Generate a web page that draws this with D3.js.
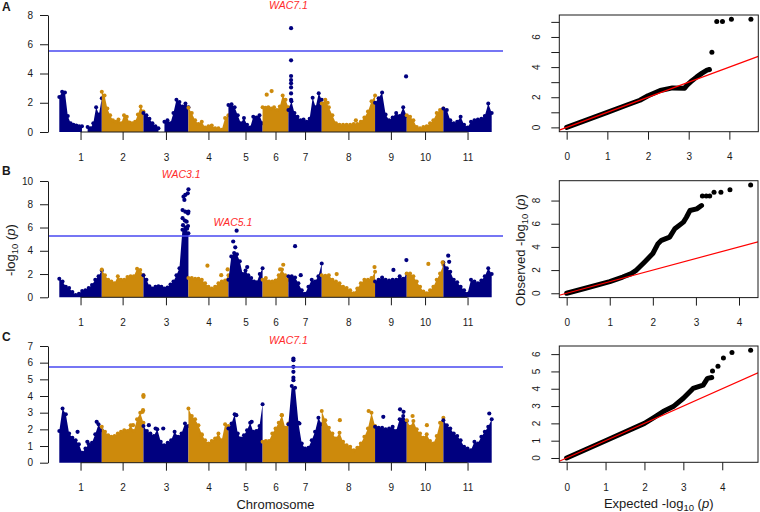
<!DOCTYPE html>
<html>
<head>
<meta charset="utf-8">
<script src="https://cdn.jsdelivr.net/npm/d3@7"></script>
<style>
  body { margin: 0; background: #fff; }
  text { font-family: "Liberation Sans", Arial, sans-serif; }
</style>
</head>
<body>
<svg id="fig" width="760" height="512"></svg>
<script>
// ---- data ----
var chromosomes = ["1", "2", "3", "4", "5", "6", "7", "8", "9", "10", "11"];
var chrLength = [51, 50, 54, 48, 41, 31, 40, 64, 38, 44, 58];   // Mb (approx.)

// upper envelope of -log10(p), sampled evenly along each chromosome (null = no SNPs)
var envA = [
  [2.4, 2.75, 2.7, 1.1, 0.6, 0.5, 0.45, 0.4, 0.4, null, 0.35, 0.25, 0.6, 1.7, 1.2, 2.3],
  [2.75, 2.5, 1.6, 1.15, 0.8, 0.7, 0.85, 0.6, 1.15, 1.05, 0.65, 0.6, 0.7, 1.2, 1.75, 1.4],
  [1.3, 1.15, 0.9, 0.6, 0.4, 0.25, null, 0.7, 0.8, 0.6, 1.3, 2.2, 2.05, 1.75, 1.95, 1.7],
  [1.65, 1.3, 0.8, 0.55, 0.7, 0.3, 0.4, 0.45, 0.25, 0.25, 0.15, 0.95, 1.15],
  [1.85, 1.9, 1.7, 1.15, 0.6, 0.95, 0.5, 0.3, 1.05, 1.0, 1.15, 0.6],
  [1.7, 1.65, 1.7, 1.6, 1.7, 1.5, 1.75, 2.5, 2.2, 1.7],
  [1.5, 2.1, 1.3, 1.05, 0.8, 0.85, 0.7, 0.9, 2.35, 1.7, 2.65, 2.2],
  [1.95, 2.2, 1.7, 1.15, 0.6, 0.5, 0.5, 0.5, 0.5, 0.55, 0.55, 0.7, 1.0, 1.4, 2.1, 2.5],
  [2.0, 2.3, 2.7, 1.2, 0.8, 1.0, 1.3, 1.1, 1.7, 1.1],
  [1.15, 1.05, 0.8, 0.35, 0.25, 0.35, 0.4, 0.6, 0.8, 1.3, 1.5, 1.6],
  [1.6, 1.5, 0.8, 0.6, 0.7, 1.05, 0.5, 0.3, 0.7, 0.8, 0.85, 0.9, 1.1, 1.95, 1.3]
];
var envB = [
  [1.6, 1.35, 0.9, 0.8, 0.45, 0.2, 0.3, 0.55, 0.6, 0.8, 1.05, 1.5, 1.8, 2.3],
  [2.4, 1.9, 1.5, 1.35, 1.2, 1.8, 1.5, 1.5, 1.75, 1.8, 1.8, 2.45, 2.35, 1.9],
  [1.9, 1.5, 0.95, 0.75, 0.9, 0.95, 0.9, 0.75, 0.85, 1.1, 1.35, 1.9, 2.5, 5.8, 6.0, 5.5],
  [1.65, 1.65, 1.6, 1.6, 1.5, 1.2, 0.9, 0.75, 0.9, 1.2, 1.35, 1.45, 1.9],
  [1.5, 3.5, 3.8, 3.7, 3.1, 2.0, 2.3, 1.9, 1.65, 1.35, 1.3, 2.0, 2.5],
  [1.5, 1.65, 1.35, 1.35, 1.45, 1.9, 2.4, 1.9, 1.5],
  [1.8, 1.8, 1.7, 1.2, 0.6, 0.3, 0.9, 1.5, 1.35, 1.8, 2.9],
  [1.9, 1.85, 1.9, 1.5, 1.35, 1.2, 0.9, 0.8, 0.6, 0.35, 0.75, 1.2, 1.5, 1.5, 1.65, 2.2],
  [1.35, 1.5, 1.7, 1.5, 1.45, 1.5, 1.5, 1.8, 1.6, 2.0],
  [2.05, 2.05, 1.8, 1.35, 0.9, 0.5, 0.35, 0.6, 0.9, 1.5, 2.05, 2.8],
  [3.0, 2.5, 2.2, 1.5, 1.3, 0.9, 0.6, 0.3, 1.5, 1.35, 1.2, 1.45, 1.8, 2.5, 2.0]
];
var envC = [
  [1.9, 3.25, 2.9, 1.75, 1.5, 1.35, 1.1, 0.6, 0.85, 1.1, 1.2, 1.7, 2.3, 1.95],
  [2.15, 1.85, 1.65, 1.55, 1.6, 1.75, 1.85, 1.95, 1.9, 2.25, 1.9, 2.6, 3.0, 2.4],
  [2.2, 1.9, 1.75, 1.6, 2.0, 1.25, 1.05, 1.2, 1.35, 1.85, 1.55, 1.75, 2.35, 2.2],
  [3.25, 2.8, 2.6, 2.25, 1.7, 1.35, 1.15, 1.3, 1.45, 1.75, 1.35, 2.3, 2.2],
  [2.05, 2.35, 2.9, 1.75, 1.45, 1.65, 1.95, 2.4, 1.85, 1.9, 2.2, 3.5],
  [1.25, 1.3, 1.3, 1.75, 2.05, 2.4, 2.85, 2.1, 2.35],
  [2.3, 4.6, 4.5, 2.4, 1.15, 0.85, 0.9, 1.35, 1.85, 2.7, 2.3],
  [3.1, 2.55, 2.1, 1.75, 1.45, 1.8, 1.25, 1.05, 0.95, 0.75, 0.9, 1.15, 1.55, 2.05, 3.0, 2.2],
  [2.15, 2.1, 2.1, 2.0, 2.05, 2.15, 1.9, 2.6, 2.8, 2.5],
  [2.55, 2.15, 2.5, 2.0, 1.75, 1.5, 1.7, 1.3, 1.15, 1.6, 2.4, 2.7],
  [2.55, 2.25, 2.05, 1.75, 1.6, 1.35, 0.95, 0.85, 0.75, 1.25, 1.15, 1.55, 1.85, 2.15, 2.6]
];

// single SNPs standing above the envelope: [chromosome, relative position, -log10(p)]
var peaksA = [
  [6, 0.16, 2.55], [6, 0.35, 2.8],
  [7, 0.08, 7.1], [7, 0.08, 4.9], [7, 0.08, 3.83], [7, 0.08, 3.55], [7, 0.08, 3.33],
  [7, 0.08, 3.05], [7, 0.08, 2.64], [7, 0.08, 2.2],
  [8, 0.11, 2.0], [8, 0.64, 0.8], [9, 0.98, 3.8]
];
var peaksB = [
  [3, 0.87, 7.5], [3, 0.87, 6.8], [3, 0.89, 8.65], [3, 0.91, 8.37], [3, 0.93, 8.8],
  [3, 0.93, 7.36], [3, 0.96, 6.5], [3, 0.985, 8.94], [3, 1.0, 9.28], [3, 1.0, 7.36],
  [3, 0.99, 6.13], [3, 0.99, 7.22], [3, 0.88, 6.2], [3, 0.92, 6.6], [3, 0.97, 5.9],
  [4, 0.475, 2.72], [4, 0.82, 1.9], [4, 0.98, 2.4],
  [5, 0.24, 5.73], [5, 0.14, 4.8], [5, 0.2, 4.3], [5, 0.55, 2.6],
  [6, 0.8, 2.8], [6, 0.68, 2.4], [7, 0.2, 4.4], [7, 0.37, 1.9],
  [8, 0.28, 2.0], [8, 0.99, 2.6], [9, 0.58, 2.35], [9, 0.99, 3.2],
  [10, 0.59, 2.87], [10, 0.98, 3.0], [11, 0.1, 3.58], [11, 0.12, 3.05]
];
var peaksC = [
  [1, 0.43, 1.85], [1, 0.66, 1.25], [1, 0.88, 2.45],
  [2, 1.0, 4.05], [2, 1.0, 3.95], [2, 0.99, 3.15], [2, 0.98, 3.05], [2, 0.93, 2.4], [2, 0.75, 2.25],
  [3, 0.12, 2.25], [3, 0.27, 2.05], [3, 0.44, 2.05], [4, 0.33, 1.65],
  [5, 0.23, 2.85], [5, 0.68, 2.45], [6, 0.74, 2.85],
  [7, 0.15, 6.25], [7, 0.15, 6.15], [7, 0.15, 5.75], [7, 0.15, 5.45], [7, 0.15, 5.1], [7, 0.15, 4.95],
  [7, 0.33, 2.35], [8, 0.34, 2.55], [8, 0.88, 3.1],
  [9, 0.26, 2.75], [9, 0.79, 3.2], [9, 0.9, 3.05], [10, 0.16, 2.8], [10, 0.55, 2.25], [11, 0.95, 2.95]
];

var thresholds = [5.54, 5.27, 5.74];
var yMaxManhattan = [8, 10, 7];
var yTicksA = [0, 2, 4, 6, 8];
var yTicksB = [0, 2, 4, 6, 8, 10];
var yTicksC = [0, 1, 2, 3, 4, 5, 6, 7];

// QTL labels: [panel, label, chromosome, relative position, height]
var qtlLabels = [
  [0, "WAC7.1", 7, 0.0, 8.38],
  [1, "WAC3.1", 3, 0.84, 10.3],
  [1, "WAC5.1", 5, 0.13, 6.13],
  [2, "WAC7.1", 7, 0.0, 7.12]
];

// QQ plots: [expected, observed]; dense part and sparse tail
var qqCurveA = [[0, 0], [0.5, 0.5], [1, 1], [1.5, 1.5], [1.8, 1.8], [2.0, 2.1], [2.3, 2.45], [2.6, 2.62],
  [2.9, 2.6], [2.96, 2.8], [3.08, 3.1], [3.2, 3.35], [3.33, 3.6], [3.45, 3.8], [3.51, 3.84]];
var qqTailA = [[3.57, 4.98], [3.69, 7.02], [3.83, 7.02], [4.05, 7.17], [4.53, 7.17]];
var qqCurveB = [[0, 0], [0.5, 0.5], [1, 1], [1.3, 1.4], [1.5, 1.7], [1.62, 2.0], [1.81, 2.7], [2.0, 3.43],
  [2.12, 4.28], [2.2, 4.57], [2.39, 4.85], [2.51, 5.57], [2.71, 6.14], [2.78, 6.56], [2.86, 7.14],
  [3.02, 7.28], [3.13, 7.57]];
var qqTailB = [[3.15, 8.4], [3.24, 8.4], [3.32, 8.4], [3.42, 8.71], [3.58, 8.71], [3.79, 8.94], [4.27, 9.34]];
var qqCurveC = [[0, 0], [1, 1], [2, 2], [2.25, 2.35], [2.48, 2.68], [2.74, 2.97], [3.0, 3.45], [3.25, 4.02],
  [3.51, 4.21], [3.62, 4.6], [3.73, 4.65]];
var qqTailC = [[3.75, 5.02], [3.89, 5.3], [4.03, 5.78], [4.25, 6.09], [4.73, 6.22]];
var qqXTicks = [0, 1, 2, 3, 4];
var qqYTicksA = [0, 1, 2, 3, 4, 5, 6, 7], qqYLabelsA = [0, 2, 4, 6];
var qqYTicksB = [0, 2, 4, 6, 8];
var qqYTicksC = [0, 1, 2, 3, 4, 5, 6];

// ---- drawing ----
var svg = d3.select("#fig");
var navy = "#00007f", gold = "#cd8a0c", ink = "#1a1a1a";
var tickFont = 10;
var fmt = d3.format("d");

var chrStart = [0].concat(Array.from(d3.cumsum(chrLength)));
var total = d3.sum(chrLength);
var xM = d3.scaleLinear().domain([0, total]).range([59.3, 491.7]);
var mids = chrLength.map(function (l, i) { return chrStart[i] + l / 2; });

var manhattan = [
  {env: envA, peaks: peaksA, ticks: yTicksA, top: 15, bottom: 132, tag: "A", tagY: 11},
  {env: envB, peaks: peaksB, ticks: yTicksB, top: 181, bottom: 297.3, tag: "B", tagY: 174.6},
  {env: envC, peaks: peaksC, ticks: yTicksC, top: 346, bottom: 462.7, tag: "C", tagY: 341}
];

function styleAxis(g) {
  g.selectAll("line").attr("stroke", ink);
  g.selectAll("path").attr("stroke", ink);
  g.selectAll("text").attr("font-size", tickFont).attr("fill", ink)
    .attr("font-family", "'Liberation Sans', Arial, sans-serif");
}

manhattan.forEach(function (p, k) {
  var y = d3.scaleLinear().domain([0, yMaxManhattan[k]]).range([p.bottom, p.top]);
  var g = svg.append("g");

  var area = d3.area()
    .defined(function (d) { return d.v !== null; })
    .x(function (d) { return xM(d.pos); })
    .y0(y(0))
    .y1(function (d) { return y(d.v); });

  p.env.forEach(function (vals, c) {
    var col = c % 2 === 0 ? navy : gold;
    var pts = vals.map(function (v, j) {
      return {pos: chrStart[c] + chrLength[c] * j / (vals.length - 1), v: v};
    });
    g.append("path").attr("d", area(pts)).attr("fill", col);
    g.selectAll(null).data(pts.filter(function (d) { return d.v !== null; }))
      .enter().append("circle")
      .attr("cx", function (d) { return xM(d.pos); })
      .attr("cy", function (d) { return y(d.v); })
      .attr("r", 2)
      .attr("fill", col);
  });

  g.selectAll(null).data(p.peaks).enter().append("circle")
    .attr("cx", function (d) { return xM(chrStart[d[0] - 1] + chrLength[d[0] - 1] * d[1]); })
    .attr("cy", function (d) { return y(d[2]); })
    .attr("r", 2.1)
    .attr("fill", function (d) { return (d[0] - 1) % 2 === 0 ? navy : gold; });

  // significance threshold
  g.append("line")
    .attr("x1", 48).attr("x2", 503)
    .attr("y1", y(thresholds[k])).attr("y2", y(thresholds[k]))
    .attr("stroke", "#4848f0").attr("stroke-width", 1.3);

  var ya = g.append("g").attr("transform", "translate(48,0)")
    .call(d3.axisLeft(y).tickValues(p.ticks).tickFormat(fmt)
      .tickSize(8).tickPadding(7).tickSizeOuter(0));
  styleAxis(ya);

  var xa = g.append("g").attr("transform", "translate(0," + p.bottom + ")")
    .call(d3.axisBottom(xM).tickValues(mids)
      .tickFormat(function (d, i) { return chromosomes[i]; })
      .tickSize(8).tickPadding(13.5));
  xa.select(".domain").remove();
  xa.append("line")
    .attr("x1", xM(mids[0])).attr("x2", xM(mids[mids.length - 1]))
    .attr("y1", 0).attr("y2", 0).attr("stroke", ink);
  styleAxis(xa);

  svg.append("text").attr("x", 2).attr("y", p.tagY)
    .attr("font-size", 12).attr("font-weight", "bold").attr("fill", ink).text(p.tag);

  qtlLabels.filter(function (q) { return q[0] === k; }).forEach(function (q) {
    svg.append("text")
      .attr("x", xM(chrStart[q[2] - 1] + chrLength[q[2] - 1] * q[3]))
      .attr("y", y(q[4]))
      .attr("text-anchor", "middle")
      .attr("font-size", 10.5).attr("font-style", "italic").attr("fill", "#ff2b2b")
      .text(q[1]);
  });
});

// ---- QQ plots ----
var qq = [
  {curve: qqCurveA, tail: qqTailA, ticks: qqYTicksA, labels: qqYLabelsA, x0: 559.3, x1: 758.3, y0: 15, y1: 131.7},
  {curve: qqCurveB, tail: qqTailB, ticks: qqYTicksB, labels: qqYTicksB, x0: 559.3, x1: 758, y0: 180.7, y1: 297.6},
  {curve: qqCurveC, tail: qqTailC, ticks: qqYTicksC, labels: qqYTicksC, x0: 559.3, x1: 758, y0: 346, y1: 462.3}
];

qq.forEach(function (q, k) {
  var all = q.curve.concat(q.tail);
  var xMax = d3.max(all, function (d) { return d[0]; });
  var yMax = d3.max(all, function (d) { return d[1]; });
  var x = d3.scaleLinear().domain([-0.04 * xMax, 1.04 * xMax]).range([q.x0, q.x1]);
  var y = d3.scaleLinear().domain([-0.04 * yMax, 1.04 * yMax]).range([q.y1, q.y0]);
  var g = svg.append("g");

  g.append("clipPath").attr("id", "qqclip" + k).append("rect")
    .attr("x", q.x0).attr("y", q.y0).attr("width", q.x1 - q.x0).attr("height", q.y1 - q.y0);
  var inner = g.append("g").attr("clip-path", "url(#qqclip" + k + ")");

  var line = d3.line().x(function (d) { return x(d[0]); }).y(function (d) { return y(d[1]); });
  inner.append("path").attr("d", line(q.curve))
    .attr("fill", "none").attr("stroke", "#000").attr("stroke-width", 5)
    .attr("stroke-linecap", "round").attr("stroke-linejoin", "round");
  inner.selectAll(null).data(q.tail).enter().append("circle")
    .attr("cx", function (d) { return x(d[0]); })
    .attr("cy", function (d) { return y(d[1]); })
    .attr("r", 2.5).attr("fill", "#000");

  var d0 = x.domain()[0], d1 = x.domain()[1];
  inner.append("line")
    .attr("x1", x(d0)).attr("y1", y(d0)).attr("x2", x(d1)).attr("y2", y(d1))
    .attr("stroke", "#ff0000").attr("stroke-width", 1.2);

  g.append("rect").attr("x", q.x0).attr("y", q.y0)
    .attr("width", q.x1 - q.x0).attr("height", q.y1 - q.y0)
    .attr("fill", "none").attr("stroke", ink);

  var xa = g.append("g").attr("transform", "translate(0," + q.y1 + ")")
    .call(d3.axisBottom(x).tickValues(qqXTicks).tickFormat(fmt).tickSize(8).tickPadding(13.5));
  xa.select(".domain").remove();
  styleAxis(xa);

  var ya = g.append("g").attr("transform", "translate(" + q.x0 + ",0)")
    .call(d3.axisLeft(y).tickValues(q.ticks).tickFormat("").tickSize(8));
  ya.select(".domain").remove();
  styleAxis(ya);
  g.selectAll(null).data(q.labels).enter().append("text")
    .attr("transform", function (d) { return "translate(" + (q.x0 - 19) + "," + y(d) + ") rotate(-90)"; })
    .attr("text-anchor", "middle").attr("font-size", tickFont).attr("fill", ink)
    .text(function (d) { return d; });
});

// ---- axis titles ----
function logTitle(sel, prefix) {
  sel.append("tspan").text(prefix + "-log");
  sel.append("tspan").attr("font-size", 9.5).attr("dy", 3).text("10");
  sel.append("tspan").attr("dy", -3).text(" (");
  sel.append("tspan").attr("font-style", "italic").text("p");
  sel.append("tspan").text(")");
}

logTitle(svg.append("text").attr("transform", "translate(15,250) rotate(-90)")
  .attr("text-anchor", "middle").attr("font-size", 13).attr("fill", ink), "");
logTitle(svg.append("text").attr("transform", "translate(524.5,250) rotate(-90)")
  .attr("text-anchor", "middle").attr("font-size", 13).attr("fill", ink), "Observed ");
logTitle(svg.append("text").attr("x", 658.7).attr("y", 507.5)
  .attr("text-anchor", "middle").attr("font-size", 13).attr("fill", ink), "Expected ");
svg.append("text").attr("x", 275.5).attr("y", 508.5)
  .attr("text-anchor", "middle").attr("font-size", 13).attr("fill", ink).text("Chromosome");
</script>
</body>
</html>
